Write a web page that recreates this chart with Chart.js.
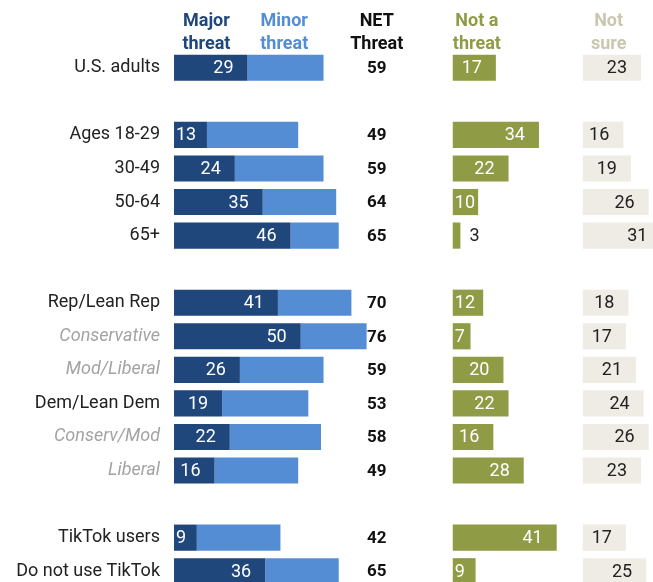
<!DOCTYPE html>
<html>
<head>
<meta charset="utf-8">
<script src="https://cdn.jsdelivr.net/npm/chart.js@4"></script>
<style>
  html, body { margin: 0; padding: 0; background: #fff; overflow: hidden; }
  #wrap { width: 653px; height: 588px; position: relative; }
</style>
</head>
<body>
<div id="wrap"><canvas id="chart"></canvas></div>
<script>
// Rows (blank strings are spacer rows between groups)
const labels = ['U.S. adults', '', 'Ages 18-29', '30-49', '50-64', '65+', '',
    'Rep/Lean Rep', 'Conservative', 'Mod/Liberal', 'Dem/Lean Dem', 'Conserv/Mod', 'Liberal', '',
    'TikTok users', 'Do not use TikTok'];
const subRows = ['Conservative', 'Mod/Liberal', 'Conserv/Mod', 'Liberal'];

const majorThreat = [29, null, 13, 24, 35, 46, null, 41, 50, 26, 19, 22, 16, null, 9, 36];
const minorThreat = [30, null, 36, 35, 29, 19, null, 29, 26, 33, 34, 36, 33, null, 33, 29];
const netThreat   = [59, null, 49, 59, 64, 65, null, 70, 76, 59, 53, 58, 49, null, 42, 65];
const notThreat   = [17, null, 34, 22, 10, 3, null, 12, 7, 20, 22, 16, 28, null, 41, 9];
const notSure     = [23, null, 16, 19, 26, 31, null, 18, 17, 21, 24, 26, 23, null, 17, 25];

// column offsets on the value axis
const NET_COL = 80;
const NOT_COL = 110;
const SURE_COL = 161.3;

const COLORS = {
    major: '#1f477b',
    minor: '#558dd5',
    not: '#8f9b45',
    sure: '#efece5'
};

const FONT = 'Roboto, "Noto Sans", sans-serif';

function span(start, vals) {
    return vals.map((v, i) => v == null ? null : [start(i), start(i) + v]);
}

const data = {
    labels: labels,
    datasets: [
        { key: 'major', data: span(() => 0, majorThreat), backgroundColor: COLORS.major, labelColor: '#fff' },
        { key: 'minor', data: span(i => majorThreat[i], minorThreat), backgroundColor: COLORS.minor },
        { key: 'not', data: span(() => NOT_COL, notThreat), backgroundColor: COLORS.not, labelColor: '#fff' },
        { key: 'sure', data: span(() => SURE_COL, notSure), backgroundColor: COLORS.sure, labelColor: '#222' }
    ].map(d => Object.assign(d, { grouped: false, barPercentage: 0.78, categoryPercentage: 1, borderWidth: 0 }))
};

const valuesFor = { major: majorThreat, not: notThreat, sure: notSure };

const labelPlugin = {
    id: 'barLabels',
    afterDatasetsDraw(chart) {
        const ctx = chart.ctx;
        const x = chart.scales.x;
        const y = chart.scales.y;
        ctx.save();
        ctx.font = '18px ' + FONT;
        ctx.textBaseline = 'middle';
        chart.data.datasets.forEach((ds, di) => {
            const vals = valuesFor[ds.key];
            if (!vals) return;
            chart.getDatasetMeta(di).data.forEach((bar, i) => {
                if (vals[i] == null) return;
                const text = String(vals[i]);
                const w = ctx.measureText(text).width;
                const start = bar.base, end = bar.x;
                let left = end - 14 - w;
                ctx.fillStyle = ds.labelColor;
                if (end - start < w + 4) {
                    left = end + 9;
                    ctx.fillStyle = '#222';
                } else if (left < start + 2) {
                    left = start + 2;
                }
                ctx.textAlign = 'left';
                ctx.fillText(text, left, bar.y + 1);
            });
        });
        // NET column
        ctx.font = 'bold 17px ' + FONT;
        ctx.fillStyle = '#111';
        ctx.textAlign = 'center';
        netThreat.forEach((v, i) => {
            if (v == null) return;
            ctx.fillText(String(v), x.getPixelForValue(NET_COL), y.getPixelForValue(i) + 1);
        });
        // column headers
        const heads = [
            { lines: ['Major', 'threat'], at: 12.8, color: COLORS.major },
            { lines: ['Minor', 'threat'], at: 43.5, color: COLORS.minor },
            { lines: ['NET', 'Threat'], at: NET_COL, color: '#111' },
            { lines: ['Not a', 'threat'], at: 119.5, color: COLORS.not },
            { lines: ['Not', 'sure'], at: 171.5, color: '#cbc6b0' }
        ];
        ctx.font = 'bold 18px ' + FONT;
        heads.forEach(h => {
            ctx.fillStyle = h.color;
            h.lines.forEach((t, k) => ctx.fillText(t, x.getPixelForValue(h.at), 21 + k * 23));
        });
        ctx.restore();
    }
};

new Chart(document.getElementById('chart'), {
    type: 'bar',
    data: data,
    options: {
        indexAxis: 'y',
        responsive: true,
        maintainAspectRatio: false,
        animation: false,
        layout: { padding: { top: 51, bottom: 0, left: 0, right: 0 } },
        plugins: { legend: { display: false }, tooltip: { enabled: false } },
        scales: {
            x: { display: false, min: 0, max: 189 },
            y: {
                grid: { display: false },
                border: { display: false },
                afterFit: s => { s.width = 174; s.paddingTop = 0; s.paddingBottom = 0; },
                ticks: {
                    padding: 6,
                    autoSkip: false,
                    color: c => subRows.includes(labels[c.index]) ? '#a3a3a3' : '#222',
                    font: c => ({
                        family: FONT,
                        size: 18,
                        style: subRows.includes(labels[c.index]) ? 'italic' : 'normal'
                    })
                }
            }
        }
    },
    plugins: [labelPlugin]
});
</script>
</body>
</html>
